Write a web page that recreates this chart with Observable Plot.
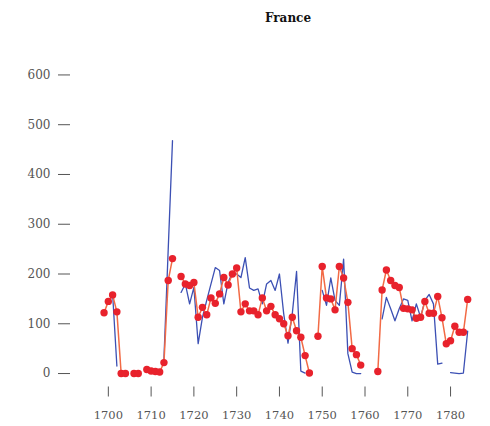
<!DOCTYPE html>
<html>
<head>
<meta charset="utf-8">
<script src="https://cdn.jsdelivr.net/npm/d3@7"></script>
<script src="https://cdn.jsdelivr.net/npm/@observablehq/plot@0.6"></script>
<style>
  html, body { margin: 0; padding: 0; background: #fff; }
  #chart { width: 490px; height: 426px; }
</style>
</head>
<body>
<div id="chart"></div>
<script>
const title = "France";
const years = [1699,1700,1701,1702,1703,1704,1705,1706,1707,1708,1709,
  1710,1711,1712,1713,1714,1715,1716,1717,1718,1719,
  1720,1721,1722,1723,1724,1725,1726,1727,1728,1729,
  1730,1731,1732,1733,1734,1735,1736,1737,1738,1739,
  1740,1741,1742,1743,1744,1745,1746,1747,1748,1749,
  1750,1751,1752,1753,1754,1755,1756,1757,1758,1759,
  1760,1761,1762,1763,1764,1765,1766,1767,1768,1769,
  1770,1771,1772,1773,1774,1775,1776,1777,1778,1779,
  1780,1781,1782,1783,1784];
const redValues = [122,145,158,124,0,0,null,0,0,null,8,
  5,4,3,22,187,231,null,195,180,177,
  183,113,133,118,152,141,160,193,178,200,
  212,124,140,126,126,118,152,126,135,118,
  110,100,76,113,86,73,36,1,null,75,
  215,152,150,128,215,192,143,50,38,17,
  null,null,null,4,168,208,187,177,173,131,
  130,128,111,113,145,121,121,155,112,60,
  66,95,83,83,149];
const blueValues = [null,140,160,15,null,null,null,null,null,null,null,
  null,null,null,30,250,468,null,163,180,140,
  173,60,113,147,180,213,207,140,183,203,
  200,193,233,172,167,170,140,180,187,167,
  200,120,61,120,205,5,1,null,null,null,
  167,137,192,147,137,230,40,3,0,0,
  null,null,null,null,110,153,130,106,130,150,
  147,106,140,113,147,159,140,19,21,null,
  2,1,0,1,85];
const yTicks = [0,100,200,300,400,500,600];
const xTicks = [1700,1710,1720,1730,1740,1750,1760,1770,1780];

const red = years.map((year, i) => ({year, value: redValues[i]}));
const blue = years.map((year, i) => ({year, value: blueValues[i]}));

const chart = Plot.plot({
  width: 490,
  height: 426,
  marginLeft: 95,
  marginRight: 10,
  marginTop: 64.5,
  marginBottom: 45.5,
  style: {fontFamily: "DejaVu Serif", fontSize: "12px", background: "#fff"},
  x: {domain: [1697, 1787]},
  y: {domain: [-15, 620]},
  marks: [
    Plot.axisY({ticks: yTicks, tickSize: 12, tickPadding: 8, dx: -25,
      stroke: "#555", color: "#555", fontSize: 12, label: null}),
    Plot.axisX({ticks: xTicks, tickSize: 10, tickPadding: 14, dy: 6,
      stroke: "#555", color: "#555", fontSize: 11.5, tickFormat: d => String(d), label: null}),
    Plot.line(blue, {x: "year", y: "value", stroke: "#3c50b4", strokeWidth: 1.3}),
    Plot.line(red, {x: "year", y: "value", stroke: "#f26a45", strokeWidth: 1.5}),
    Plot.dot(red, {x: "year", y: "value", r: 3.7, fill: "#e8222c", stroke: "none"}),
    Plot.text([title], {frameAnchor: "top", dy: -43.5, lineAnchor: "bottom",
      fontWeight: "bold", fontSize: 12, fill: "#111"})
  ]
});
document.getElementById("chart").appendChild(chart);
</script>
</body>
</html>
